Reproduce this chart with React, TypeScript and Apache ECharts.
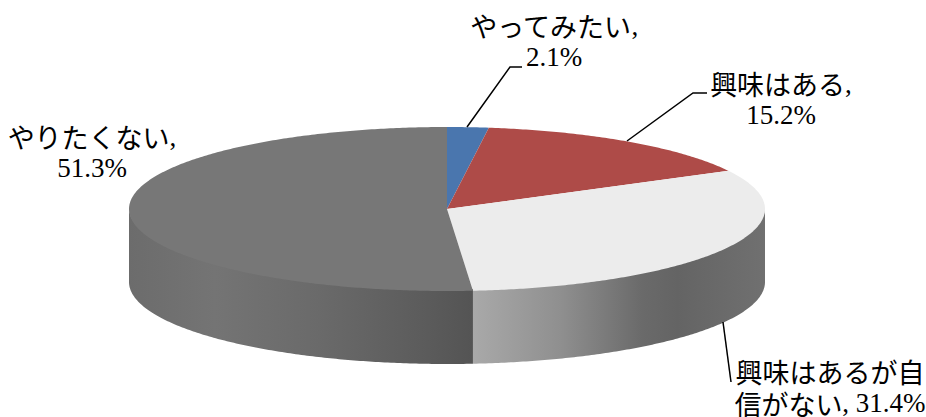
import React, { useEffect, useRef } from "react";
import * as echarts from "echarts";

const categories = ["やってみたい", "興味はある", "興味はあるが自信がない", "やりたくない"];
const shares = [2.1, 15.2, 31.4, 51.3];
const topColors = ["#4a76ae", "#ae4b48", "#ececec", "#777777"];

// Horizontal shading of the visible rim, left to right, per slice; null where the rim faces away.
const rimStops: (([number, string])[] | null)[] = [
  null,
  null,
  [[0, "#a9a9a9"], [0.3, "#8f8f8f"], [0.58, "#6a6a6a"], [0.7, "#646464"], [1, "#707070"]],
  [[0, "#6c6c6c"], [0.25, "#747474"], [0.55, "#6a6a6a"], [0.85, "#5c5c5c"], [1, "#545454"]],
];

const KANA = "Noto Sans CJK JP";
const LATIN = "Liberation Serif";
const FONT_SIZE = 27;

const CX = 447;
const CY = 209;
const RX = 318;
const RY = 82;
const DEPTH = 73;

const rich = {
  k: { fontFamily: KANA, fontSize: FONT_SIZE, lineHeight: 31, fill: "#000", color: "#000" },
  n: { fontFamily: LATIN, fontSize: FONT_SIZE, lineHeight: 31, fill: "#000", color: "#000" },
};

// Angles run clockwise from twelve o'clock, in radians.
const rimPoint = (t: number, dy = 0): number[] => [
  CX + RX * Math.sin(t),
  CY - RY * Math.cos(t) + dy,
];

const arcPoints = (a: number, b: number, dy = 0): number[][] => {
  const steps = Math.max(2, Math.ceil(Math.abs(b - a) / 0.01));
  const pts: number[][] = [];
  for (let i = 0; i <= steps; i++) pts.push(rimPoint(a + ((b - a) * i) / steps, dy));
  return pts;
};

const renderSlice = (params: any, api: any) => {
  const i = params.dataIndex;
  const before = shares.slice(0, i).reduce((s, v) => s + v, 0);
  const start = (before / 100) * Math.PI * 2;
  const end = ((before + api.value(0)) / 100) * Math.PI * 2;
  const children: any[] = [];

  // Only the front half of the rim (quarter past to quarter to) can be seen.
  const a = Math.max(start, Math.PI / 2);
  const b = Math.min(end, (Math.PI * 3) / 2);
  const stops = rimStops[i];
  if (b > a && stops) {
    const x0 = rimPoint(a)[0];
    const x1 = rimPoint(b)[0];
    children.push({
      type: "polygon",
      // The upper edge tucks under the slice's top face so no seam shows.
      shape: { points: [...arcPoints(a, b, -1.5), ...arcPoints(b, a, DEPTH)] },
      style: {
        fill: new echarts.graphic.LinearGradient(
          Math.min(x0, x1),
          0,
          Math.max(x0, x1),
          0,
          stops.map(([offset, color]) => ({ offset, color })),
          true
        ),
      },
    });
  }

  children.push({
    type: "polygon",
    shape: { points: [[CX, CY], ...arcPoints(start, end)] },
    style: { fill: topColors[i] },
  });
  return { type: "group", children };
};

const App = () => {
  const ref = useRef<HTMLDivElement>(null);

  useEffect(() => {
    if (!ref.current) return;
    const chart = echarts.init(ref.current, undefined, { renderer: "svg" });
    const label = (x: number, y: number, text: string) => ({
      type: "text",
      x,
      y,
      z: 10,
      style: { text, rich, align: "center", verticalAlign: "middle" },
    });
    const leader = (points: number[][]) => ({
      type: "polyline",
      z: 9,
      shape: { points },
      style: { stroke: "#000", lineWidth: 1.5, fill: "none" },
    });
    chart.setOption({
      animation: false,
      backgroundColor: "#fff",
      series: [
        {
          type: "custom",
          coordinateSystem: "none",
          renderItem: renderSlice,
          data: shares.map((v, i) => ({ name: categories[i], value: [v] })),
          silent: true,
        },
      ],
      graphic: [
        leader([[467, 127], [510, 67], [522, 67]]),
        leader([[627, 141], [693, 93], [707, 93]]),
        leader([[723, 322], [731, 382]]),
        label(554, 41, `{k|${categories[0]}}{n|,}\n{n|${shares[0]}%}`),
        label(781, 99, `{k|${categories[1]}}{n|,}\n{n|${shares[1]}%}`),
        label(830, 371, `{k|興味はあるが自}`),
        label(830, 403, `{k|信がない}{n|, ${shares[2]}%}`),
        label(92, 152, `{k|${categories[3]}}{n|,}\n{n|${shares[3]}%}`),
      ],
    });
    return () => chart.dispose();
  }, []);

  return (
    <div
      ref={ref}
      style={{ position: "absolute", left: 0, top: 0, width: 926, height: 417 }}
    />
  );
};

export default App;
